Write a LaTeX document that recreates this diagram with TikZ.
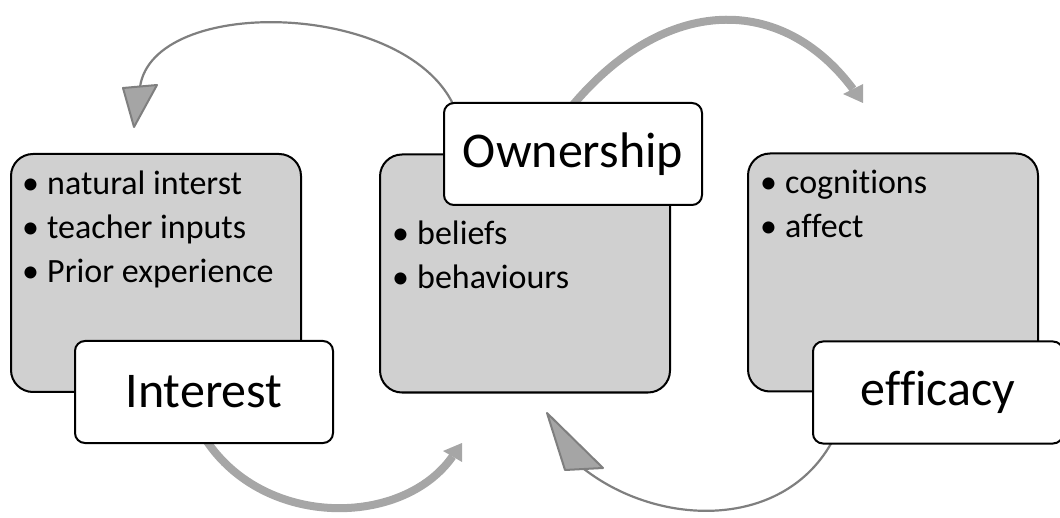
\documentclass[tikz,border=0pt]{standalone}
\usepackage{fontspec}
\setmainfont{Carlito}[Ligatures=NoCommon]
\usetikzlibrary{backgrounds}

\definecolor{panelgrey}{HTML}{D0D0D0}
\definecolor{thinline}{HTML}{7F7F7F}
\definecolor{thickline}{HTML}{A6A6A6}
\definecolor{headfill}{HTML}{A5A5A5}

\newcommand{\bul}{\makebox[25pt][l]{•}}

\tikzset{
  panel/.style={draw=black, line width=2pt, fill=panelgrey, rounded corners=22pt,
    minimum width=290pt, minimum height=238pt, inner sep=0pt},
  tag/.style={draw=black, line width=2pt, fill=white, rounded corners=10pt,
    minimum width=258pt, minimum height=102pt, inner sep=0pt,
    font=\fontsize{50}{60}\selectfont},
  items/.style={anchor=north west, inner sep=0pt, align=left,
    font=\fontsize{34}{44}\selectfont},
  thinarc/.style={draw=thinline, line width=2.2pt},
  thinhead/.style={draw=thinline, fill=headfill, line width=2pt, line join=round},
  thickarc/.style={draw=thickline, line width=8pt},
  thickhead/.style={fill=thickline},
}

\begin{document}
\begin{tikzpicture}[x=1pt, y=-1pt]
\useasboundingbox (0,0) rectangle (1060,518);
\clip (0,0) rectangle (1060,518);

% panels with their title tags
\node[panel] (p1) at (156,273) {};
\node[tag] (t1) at (204,392) {Interest};
\node[panel] (p2) at (525,273.5) {};
\node[tag] (t2) at (573,154) {Ownership};
\node[panel] (p3) at (893,272.5) {};
\node[tag, minimum width=250pt] (t3) at (938,392.5) {efficacy};

% bullet lists
\node[items] (l1) at (22,163.2) {\strut\bul natural interst\\ \strut\bul teacher inputs\\ \strut\bul Prior experience};
\node[items] (l2) at (392,213.2) {\strut\bul beliefs\\ \strut\bul behaviours};
\node[items] (l3) at (760,162.2) {\strut\bul cognitions\\ \strut\bul affect};

% cycle arrows behind the boxes
\coordinate (a1s) at (453,104);
\coordinate (a1e) at (140,87);
\coordinate (a2s) at (572,106);
\coordinate (a2e) at (853,89);
\coordinate (a3s) at (206,440);
\coordinate (a3e) at (452.5,456.5);
\coordinate (a4s) at (833,440);
\coordinate (a4e) at (584,469);

\begin{scope}[on background layer]
  \draw[thinarc] (a1s) .. controls (402,0) and (153,-4) .. (a1e);
  \draw[thinhead] (123,88) -- (157,85) -- (134,127) -- cycle;

  \draw[thickarc] (a2s) .. controls (666,-6) and (782,-6) .. (a2e);
  \fill[thickhead] (843,94) -- (863,84) -- (863,103) -- cycle;

  \draw[thickarc] (a3s) .. controls (265,529) and (403,527) .. (a3e);
  \fill[thickhead] (443,451) -- (462,443) -- (462,462) -- cycle;

  \draw[thinarc] (a4s) .. controls (785,530) and (660,528) .. (a4e);
  \draw[thinhead] (547,413) -- (565,470) -- (603,468) -- cycle;
\end{scope}
\end{tikzpicture}
\end{document}
